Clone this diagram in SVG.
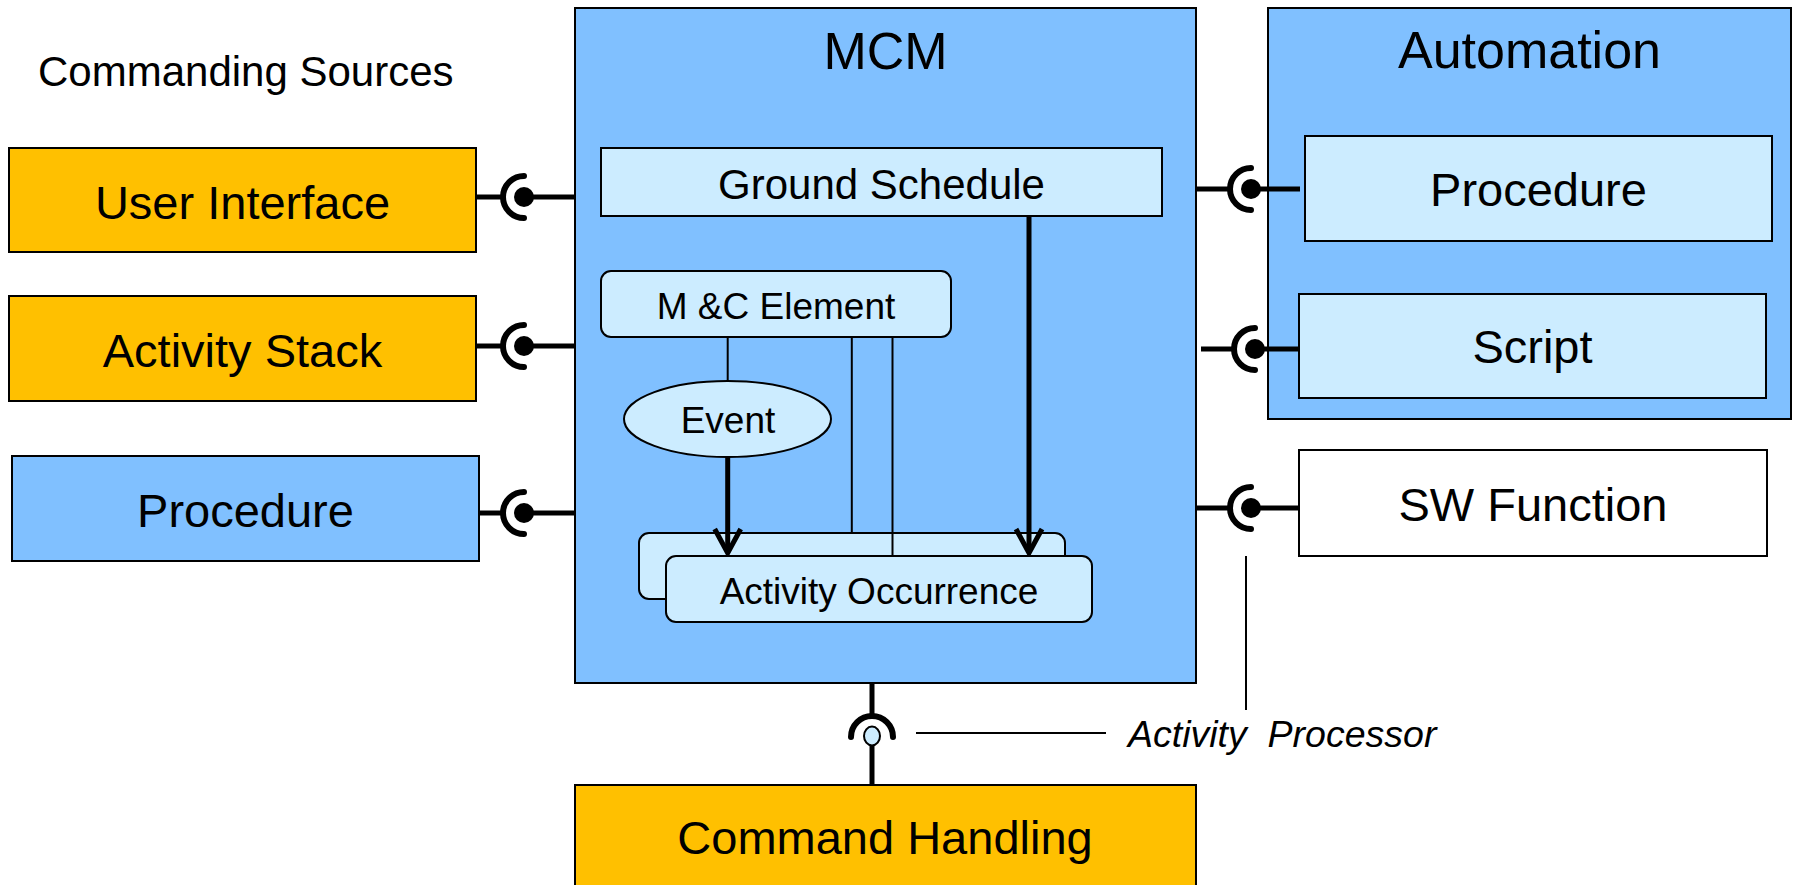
<svg xmlns="http://www.w3.org/2000/svg" width="1798" height="885" viewBox="0 0 1798 885">
<style>
text{font-family:"Liberation Sans",Arial,sans-serif;fill:#000}
.box{stroke:#000;stroke-width:2}
.or{fill:#FFC000}
.bl{fill:#80C0FF}
.lb{fill:#CCECFF}
.wh{fill:#FFFFFF}
.big{font-size:47px;text-anchor:middle}
.mid{font-size:42px;text-anchor:middle}
.sm{font-size:37px;text-anchor:middle}
.title{font-size:52px;text-anchor:middle}
.thick{stroke:#000;stroke-width:5;fill:none}
.sock{stroke:#000;stroke-width:6;fill:none;stroke-linecap:round}
.thin{stroke:#000;stroke-width:2;fill:none}
.head{stroke:#000;stroke-width:5;fill:none;stroke-linejoin:miter}
</style>
<rect width="1798" height="885" fill="#fff"/>
<text x="38" y="86" style="font-size:42px">Commanding Sources</text>

<g id="mcm"><rect class="box bl" x="575" y="8" width="621" height="675"/><text class="title" x="885.5" y="69">MCM</text></g>
<g id="automation"><rect class="box bl" x="1268" y="8" width="523" height="411"/><text class="title" x="1529.5" y="68">Automation</text></g>
<g id="user-interface"><rect class="box or" x="9" y="148" width="467" height="104"/><text class="big" x="242.5" y="219">User Interface</text></g>
<g id="activity-stack"><rect class="box or" x="9" y="296" width="467" height="105"/><text class="big" x="242.5" y="367">Activity Stack</text></g>
<g id="procedure-left"><rect class="box bl" x="12" y="456" width="467" height="105"/><text class="big" x="245.5" y="527">Procedure</text></g>
<g id="command-handling"><rect class="box or" x="575" y="785" width="621" height="110"/><text class="big" x="885" y="854">Command Handling</text></g>
<g id="ground-schedule"><rect class="box lb" x="601" y="148" width="561" height="68"/><text class="mid" x="881.5" y="199">Ground Schedule</text></g>
<g id="procedure-right"><rect class="box lb" x="1305" y="136" width="467" height="105"/><text class="big" x="1538.5" y="206">Procedure</text></g>
<g id="script"><rect class="box lb" x="1299" y="294" width="467" height="104"/><text class="big" x="1532.5" y="363">Script</text></g>
<g id="sw-function"><rect class="box wh" x="1299" y="450" width="468" height="106"/><text class="big" x="1533" y="521">SW Function</text></g>
<g id="mc-element"><rect class="box lb" x="601" y="271" width="350" height="66" rx="10"/><text class="sm" x="776" y="319">M &amp;C Element</text></g>
<g id="event"><ellipse class="box lb" cx="727.5" cy="419" rx="103.5" ry="38"/><text class="sm" x="728" y="433">Event</text></g>
<g id="activity-occurrence-back"><rect class="box lb" x="639" y="533" width="426" height="66" rx="10"/></g>

<g id="connectors">
<line class="thin" x1="727.7" y1="337" x2="727.7" y2="381"/>
<line class="thin" x1="851.8" y1="337" x2="851.8" y2="533"/>
<line class="thin" x1="892.5" y1="337" x2="892.5" y2="556"/>
<line class="thick" x1="727.7" y1="457" x2="727.7" y2="551"/>
<polyline class="head" points="714.7,529 727.7,553 740.7,529"/>
<line class="thick" x1="1029" y1="216" x2="1029" y2="551"/>
<polyline class="head" points="1016,529 1029,553 1042,529"/>

<line class="thick" x1="476" y1="197" x2="503" y2="197"/>
<path class="sock" d="M524 176 A21 21 0 0 0 524 218"/>
<circle cx="524" cy="197" r="10"/>
<line class="thick" x1="524" y1="197" x2="575" y2="197"/>

<line class="thick" x1="476" y1="346" x2="503" y2="346"/>
<path class="sock" d="M524 325 A21 21 0 0 0 524 367"/>
<circle cx="524" cy="346" r="10"/>
<line class="thick" x1="524" y1="346" x2="575" y2="346"/>

<line class="thick" x1="479" y1="513" x2="503" y2="513"/>
<path class="sock" d="M524 492 A21 21 0 0 0 524 534"/>
<circle cx="524" cy="513" r="10"/>
<line class="thick" x1="524" y1="513" x2="575" y2="513"/>

<line class="thick" x1="1196" y1="189" x2="1230" y2="189"/>
<path class="sock" d="M1251 168 A21 21 0 0 0 1251 210"/>
<circle cx="1251" cy="189" r="10"/>
<line class="thick" x1="1251" y1="189" x2="1300" y2="189"/>

<line class="thick" x1="1201" y1="349" x2="1234" y2="349"/>
<path class="sock" d="M1255 328 A21 21 0 0 0 1255 370"/>
<circle cx="1255" cy="349" r="10"/>
<line class="thick" x1="1255" y1="349" x2="1299" y2="349"/>

<line class="thick" x1="1196" y1="508" x2="1230" y2="508"/>
<path class="sock" d="M1251 487 A21 21 0 0 0 1251 529"/>
<circle cx="1251" cy="508" r="10"/>
<line class="thick" x1="1251" y1="508" x2="1299" y2="508"/>

<line class="thick" x1="872" y1="683" x2="872" y2="716"/>
<path class="sock" d="M851 737 A21 21 0 0 1 893 737"/>
<line class="thick" x1="872" y1="745" x2="872" y2="785"/>
<ellipse cx="872" cy="736" rx="8" ry="9.5" fill="#CCECFF" stroke="#000" stroke-width="2"/>

<line class="thin" x1="1246" y1="556" x2="1246" y2="710"/>
<line class="thin" x1="916" y1="733" x2="1106" y2="733"/>
</g>

<g id="activity-occurrence"><rect class="box lb" x="666" y="556" width="426" height="66" rx="10"/><text class="sm" x="879" y="604">Activity Occurrence</text></g>
<g id="activity-processor-label"><text x="1128" y="747" style="font-size:37.5px;font-style:italic;white-space:pre">Activity  Processor</text></g>
</svg>
